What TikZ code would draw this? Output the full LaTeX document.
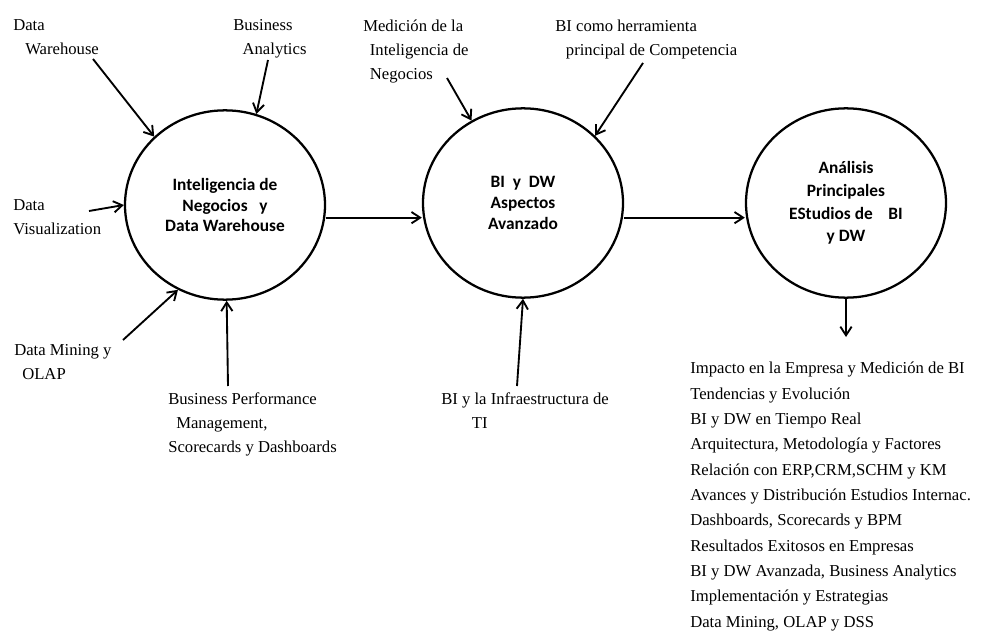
\documentclass[tikz,border=0pt]{standalone}
\usepackage{fontspec}
\setmainfont{Liberation Serif}
\newfontfamily\calibri{Carlito}
\usetikzlibrary{shapes.geometric,arrows.meta}

\tikzset{
  bubble/.style={draw, ellipse, line width=1.7pt, minimum width=150pt, minimum height=142pt,
    inner sep=0pt, align=center, font=\calibri\bfseries\fontsize{13}{15.5}\selectfont},
  lbl/.style={anchor=north west, inner sep=0pt, align=left, font=\fontsize{12.5}{18}\selectfont},
  arr/.style={-{Straight Barb[length=6.5pt,width=8.5pt]}, line width=1.4pt},
}

\begin{document}
\begin{tikzpicture}[x=0.75pt,y=-0.75pt]
  \useasboundingbox (0,0) rectangle (982,631);

  % the three stages
  \node[bubble] (c1) at (225,205) {Inteligencia de\\Negocios\ \ \ y\\Data Warehouse};
  \node[bubble] (c2) at (523,203) {BI\ \ y\ \ DW\\Aspectos\\Avanzado};
  \node[bubble, font=\calibri\bfseries\fontsize{13}{17}\selectfont] (c3) at (846,203)
    {Análisis\\Principales\\EStudios de\ \ \ \ BI\\y DW};

  % labels
  \node[lbl] (dw) at (13,19.5) {Data\\\hspace*{9pt}Warehouse};
  \node[lbl] (ba) at (233,19.5) {Business\\\hspace*{7pt}Analytics};
  \node[lbl] (dv) at (13,199.5) {Data\\Visualization};
  \node[lbl] (dm) at (14,344.5) {Data Mining y\\\hspace*{6pt}OLAP};
  \node[lbl] (bpm) at (168,392.5) {Business Performance\\\hspace*{6pt}Management,\\Scorecards y Dashboards};
  \node[lbl] (med) at (363,19.5) {Medición de la\\\hspace*{5pt}Inteligencia de\\\hspace*{5pt}Negocios};
  \node[lbl] (bic) at (555,19.5) {BI como herramienta\\\hspace*{8pt}principal de Competencia};
  \node[lbl] (infra) at (441,392.5) {BI y la Infraestructura de\\\hspace*{23pt}TI};
  \node[lbl, font=\fontsize{12.5}{19}\selectfont] (lista) at (690,362)
    {Impacto en la Empresa y Medición de BI\\
     Tendencias y Evolución\\
     BI y DW en Tiempo Real\\
     Arquitectura, Metodología y Factores\\
     Relación con ERP,CRM,SCHM y KM\\
     Avances y Distribución Estudios Internac.\\
     Dashboards, Scorecards y BPM\\
     Resultados Exitosos en Empresas\\
     BI y DW Avanzada, Business Analytics\\
     Implementación y Estrategias\\
     Data Mining, OLAP y DSS};

  % free ends of the arrows
  \coordinate (dw0) at (93,59);
  \coordinate (ba0) at (268,60);
  \coordinate (dv0) at (89,211);
  \coordinate (dm0) at (123,340);
  \coordinate (bpm0) at (228,386);
  \coordinate (med0) at (447,78);
  \coordinate (bic0) at (643,63);
  \coordinate (infra0) at (517,386);
  \coordinate (fin) at (846,337);

  \draw[arr] (dw0) -- (c1.136);
  \draw[arr] (ba0) -- (c1.71);
  \draw[arr] (dv0) -- (c1.180);
  \draw[arr] (dm0) -- (c1.241);
  \draw[arr] (bpm0) -- (c1.271);
  \draw[arr] (med0) -- (c2.122);
  \draw[arr] (bic0) -- (c2.43);
  \draw[arr] (infra0) -- (c2.270);

  \draw[arr] ([yshift=-9.5pt]c1.east) -- ([yshift=-11pt]c2.west);
  \draw[arr] ([yshift=-11pt]c2.east) -- ([yshift=-11pt]c3.west);
  \draw[arr] (c3.south) -- (fin);
\end{tikzpicture}
\end{document}
